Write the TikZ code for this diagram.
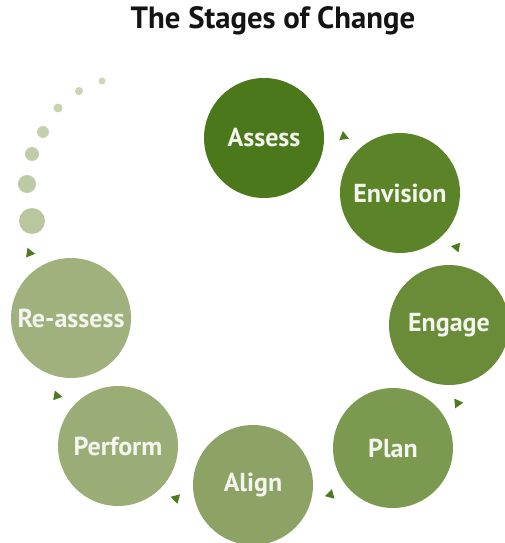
\documentclass[tikz,border=0pt]{standalone}
\usepackage{fontspec}
\setmainfont{PT Sans}
\usetikzlibrary{shapes.geometric}

\definecolor{titleink}{HTML}{141414}
\definecolor{labelink}{HTML}{F4F5EE}
\definecolor{cuegreen}{HTML}{4E7B1C}
\definecolor{stageone}{HTML}{4B781A}
\definecolor{stagetwo}{HTML}{5B8327}
\definecolor{stagethree}{HTML}{6A8C38}
\definecolor{stagefour}{HTML}{7B9A4F}
\definecolor{stagefive}{HTML}{8CA365}
\definecolor{stagesix}{HTML}{9AAD76}
\definecolor{stageseven}{HTML}{A0B17D}
\definecolor{dotgreen}{HTML}{BAC79E}

\begin{document}
\begin{tikzpicture}[x=0.02cm, y=-0.02cm,
  stage/.style={circle, minimum size=2.4cm, inner sep=0pt, text=labelink,
    font=\bfseries\fontsize{14.8}{16}\selectfont},
  dot/.style={circle, inner sep=0pt},
  cue/.style={isosceles triangle, isosceles triangle apex angle=60,
    fill=cuegreen, inner sep=0pt, minimum width=0.17cm, minimum height=0.17cm}]

\useasboundingbox (0,0) rectangle (504,543);

%Title
\node[font=\bfseries\fontsize{17.5}{20}\selectfont, text=titleink] (title) at (273,21) {The Stages of Change};

%The cycle
\node[stage, fill=stageone] (assess) at (264,138) {Assess};
\node[stage, fill=stagetwo] (envision) at (400,193) {Envision};
\node[stage, fill=stagethree] (engage) at (449,325) {Engage};
\node[stage, fill=stagefour] (plan) at (393,448) {Plan};
\node[stage, fill=stagefive] (align) at (253,485) {Align};
\node[stage, fill=stagesix] (perform) at (118,446) {Perform};
\node[stage, fill=stageseven] (reassess) at (71,318) {Re-assess};

%Trail of dots
\foreach \x/\y/\r/\t [count=\i] in {32/221/13/100, 27/184/9/95, 32/154/7/90,
    43/132/6/85, 58/108/4.5/80, 79/91/4/75, 102/81/3.5/70}
  \node[dot, fill=dotgreen!\t, minimum size={\r*0.04cm}] (dot\i) at (\x,\y) {};

%Arrowheads between stages
\foreach \a/\b/\d in {assess/envision/0.55cm, envision/engage/0.61cm,
    engage/plan/0.73cm, plan/align/0.51cm, align/perform/0.61cm,
    perform/reassess/0.73cm, reassess/dot1/0.21cm}
  \path (\a) -- (\b) node[cue, midway, sloped, allow upside down, above=\d] {};

\end{tikzpicture}
\end{document}
